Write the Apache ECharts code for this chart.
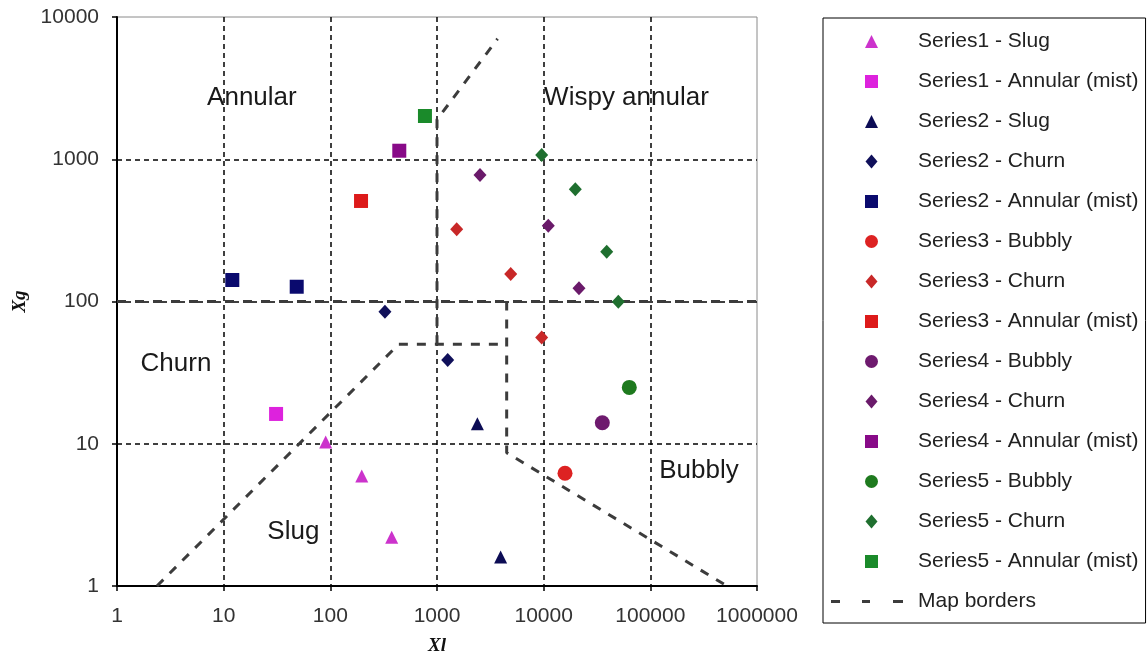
<!DOCTYPE html>
<html>
<head>
<meta charset="utf-8">
<script src="https://cdn.jsdelivr.net/npm/echarts@6/dist/echarts.min.js"></script>
<style>
html,body{margin:0;padding:0;background:#fff;}
#chart{width:1148px;height:663px;}
</style>
</head>
<body>
<div id="chart"></div>
<script>
// ---- tick labels ----
const xTickLabels = ['1','10','100','1000','10000','100000','1000000'];
const yTickLabels = ['1','10','100','1000','10000'];

// ---- series values [Xl, Xg] ----
const s1Slug    = [[90.5,10.3],[197,5.93],[376,2.2]];
const s1Annular = [[31,16.2]];
const s2Slug    = [[2390,13.8],[3950,1.6]];
const s2Churn   = [[325,84.8],[1260,38.8]];
const s2Annular = [[12.05,141.6],[48.4,127]];
const s3Bubbly  = [[15850,6.2]];
const s3Churn   = [[1530,322],[4910,156],[9580,55.8]];
const s3Annular = [[194,509]];
const s4Bubbly  = [[35460,14.06]];
const s4Churn   = [[2530,775],[11050,341],[21430,124]];
const s4Annular = [[443,1148]];
const s5Bubbly  = [[63500,24.9]];
const s5Churn   = [[9580,1071],[19800,615],[39000,224],[50100,99.7]];
const s5Annular = [[771,2014]];

// ---- map borders (polylines) ----
const borderA = [[1,100],[1000000,100]];
const borderB = [[2.37,1],[437,50],[4500,50]];
const borderC = [[1000,50],[1000,1900],[3700,7030]];
const borderD = [[4500,100],[4500,8.65],[523000,1]];

// ---- region labels ----
const regionNames = ['Annular','Wispy annular','Churn','Slug','Bubbly'];
const regionPos   = [[18.4,2697],[59750,2697],[3.57,36.4],[45,2.4],[285900,6.43]];

const FONT = 'Liberation Sans';
const chart = echarts.init(document.getElementById('chart'), null, {renderer:'canvas'});

// legend icons: shapes centred in an 83x15 box (bounds fixed by degenerate corner points)
const B = 'M0,0 L0,0 M83,15 L83,15 ';
const ICON = {
  triangle: 'path://' + B + 'M35,14 L41.5,1 L48,14 Z',
  rect:     'path://' + B + 'M35,1 L48,1 L48,14 L35,14 Z',
  diamond:  'path://' + B + 'M41.5,0.5 L47.5,7.5 L41.5,14.5 L35.5,7.5 Z',
  circle:   'path://' + B + 'M35,7.5 A6.5,6.5 0 1,1 48,7.5 A6.5,6.5 0 1,1 35,7.5 Z',
  dash:     'path://' + B + 'M1,6 L10,6 L10,9 L1,9 Z M32,6 L40,6 L40,9 L32,9 Z M63,6 L73,6 L73,9 L63,9 Z'
};
const SIZE = {triangle: 13, rect: 14, diamond: [13, 14], circle: 15};

function sc(name, data, symbol, color){
  return {
    name: name, type: 'scatter', data: data, symbol: symbol, symbolSize: SIZE[symbol],
    z: 4, itemStyle: {color: color, opacity: 1}
  };
}
function border(data){
  return {
    name: 'Map borders', type: 'line', data: data, symbol: 'none', showSymbol: false,
    z: 3, color: '#3c3c3c', itemStyle: {color: '#3c3c3c'},
    lineStyle: {color: '#3c3c3c', width: 3, type: [9, 9]}
  };
}

const scatterDefs = [
  ['Series1 - Slug', s1Slug, 'triangle', '#cc33cc'],
  ['Series1 - Annular (mist)', s1Annular, 'rect', '#dd22dd'],
  ['Series2 - Slug', s2Slug, 'triangle', '#0c0c55'],
  ['Series2 - Churn', s2Churn, 'diamond', '#10105a'],
  ['Series2 - Annular (mist)', s2Annular, 'rect', '#0a0a6e'],
  ['Series3 - Bubbly', s3Bubbly, 'circle', '#dd2222'],
  ['Series3 - Churn', s3Churn, 'diamond', '#c82828'],
  ['Series3 - Annular (mist)', s3Annular, 'rect', '#dd1a1a'],
  ['Series4 - Bubbly', s4Bubbly, 'circle', '#6e1a6e'],
  ['Series4 - Churn', s4Churn, 'diamond', '#6a1a6a'],
  ['Series4 - Annular (mist)', s4Annular, 'rect', '#880a88'],
  ['Series5 - Bubbly', s5Bubbly, 'circle', '#1e7a1e'],
  ['Series5 - Churn', s5Churn, 'diamond', '#1f6f2f'],
  ['Series5 - Annular (mist)', s5Annular, 'rect', '#1a8a2a']
];

const legendData = scatterDefs.map(function(d){ return {name: d[0], icon: ICON[d[2]]}; });
legendData.push({name: 'Map borders', icon: ICON.dash});

const option = {
  animation: false,
  backgroundColor: '#fff',
  grid: {left: 117, right: 391, top: 17, bottom: 77, show: true, borderColor: '#8a8a8a', borderWidth: 1, backgroundColor: '#fff'},
  legend: {
    orient: 'vertical', left: 823, top: 18,
    itemWidth: 83, itemHeight: 15, itemGap: 19,
    padding: [13, 7, 11, 7],
    borderColor: '#000', borderWidth: 1,
    symbolKeepAspect: true,
    textStyle: {fontSize: 21, fontFamily: FONT, color: '#222', lineHeight: 21},
    data: legendData
  },
  xAxis: {
    type: 'log', logBase: 10, min: 1, max: 1000000,
    name: 'Xl', nameLocation: 'middle', nameGap: 51,
    nameTextStyle: {fontFamily: 'Liberation Serif', fontStyle: 'italic', fontWeight: 'bold', fontSize: 19, color: '#111'},
    axisLine: {show: true, lineStyle: {color: '#000', width: 2}},
    axisTick: {show: true, length: 5, lineStyle: {color: '#000', width: 1.5}},
    minorTick: {show: false},
    axisLabel: {margin: 20, fontSize: 21, fontFamily: FONT, color: '#333',
      formatter: function(v){ return xTickLabels[Math.round(Math.log10(v))]; }},
    splitLine: {show: true, showMinLine: false, showMaxLine: false, lineStyle: {color: '#000', width: 1.5, type: [5, 4]}}
  },
  yAxis: {
    type: 'log', logBase: 10, min: 1, max: 10000,
    name: 'Xg', nameLocation: 'middle', nameGap: 78,
    nameTextStyle: {fontFamily: 'Liberation Serif', fontStyle: 'italic', fontWeight: 'bold', fontSize: 19, color: '#111'},
    axisLine: {show: true, lineStyle: {color: '#000', width: 2}},
    axisTick: {show: true, length: 5, lineStyle: {color: '#000', width: 1.5}},
    minorTick: {show: false},
    axisLabel: {margin: 18, fontSize: 21, fontFamily: FONT, color: '#333',
      formatter: function(v){ return yTickLabels[Math.round(Math.log10(v))]; }},
    splitLine: {show: true, showMinLine: false, showMaxLine: false, lineStyle: {color: '#000', width: 1.5, type: [5, 4]}}
  },
  series: [border(borderA), border(borderB), border(borderC), border(borderD)]
    .concat(scatterDefs.map(function(d){ return sc(d[0], d[1], d[2], d[3]); }))
    .concat([{
      name: 'regions', type: 'scatter', symbolSize: 0, silent: true, z: 5,
      data: regionNames.map(function(n, i){ return {name: n, value: regionPos[i]}; }),
      label: {show: true, position: 'inside', formatter: '{b}', fontSize: 26, fontFamily: FONT,
              color: '#1a1a1a', opacity: 1, textBorderWidth: 0}
    }])
};
chart.setOption(option);
</script>
</body>
</html>
